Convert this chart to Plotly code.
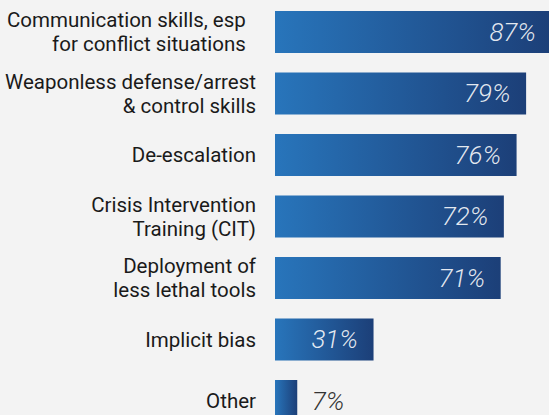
import plotly.graph_objects as go

# Survey topics and share of respondents selecting each
categories = [
    "Communication skills, esp\u00a0\u00a0<br>for conflict situations\u00a0\u00a0",
    "Weaponless defense/arrest<br>& control skills",
    "De-escalation",
    "Crisis Intervention<br>Training (CIT)",
    "Deployment of<br>less lethal tools",
    "Implicit bias",
    "Other",
]
values = [87, 79, 76, 72, 71, 31, 7]
value_labels = ["87%", "79%", "76%", "72%", "71%", "31%", "7%"]

BAR_LIGHT = "#2875bb"
BAR_DARK = "#1c3f78"
BG = "#f3f3f3"
BAR_WIDTH = 0.684      # bar thickness in category units
LINE_GAP = 0.193       # half distance between two label lines, category units
X_RANGE = [0, 86.2]

fig = go.Figure()

positions = list(range(len(categories)))
half = BAR_WIDTH / 2

# Gradient-filled bars: one closed polygon per category
for pos, v in zip(positions, values):
    fig.add_trace(go.Scatter(
        x=[0, v, v, 0, 0],
        y=[pos - half, pos - half, pos + half, pos + half, pos - half],
        mode="lines",
        line=dict(width=0),
        fill="toself",
        fillgradient=dict(
            type="horizontal",
            start=0,
            stop=v,
            colorscale=[[0, BAR_LIGHT], [1, BAR_DARK]],
        ),
        hoverinfo="skip",
        showlegend=False,
    ))

# Value labels carried by transparent bars of the same length,
# on an overlaid x axis so they sit above the filled bars
text_pos = ["inside" if v >= 20 else "outside" for v in values]
texts = [t + "\u00a0\u00a0" if p == "inside" else "\u00a0\u2009" + t
         for t, p in zip(value_labels, text_pos)]
fig.add_trace(go.Bar(
    x=values,
    y=positions,
    xaxis="x2",
    orientation="h",
    width=BAR_WIDTH,
    marker=dict(color="rgba(0,0,0,0)", line=dict(width=0)),
    text=texts,
    textposition=text_pos,
    insidetextanchor="end",
    constraintext="none",
    cliponaxis=True,
    insidetextfont=dict(family="Roboto", size=26, color="rgba(255,255,255,0.88)",
                        style="italic", weight=300),
    outsidetextfont=dict(family="Roboto", size=26, color="#333333",
                         style="italic", weight=300),
    hoverinfo="skip",
    showlegend=False,
))

# Category labels: each line of a label is its own tick for tight line spacing
tick_vals, tick_text = [], []
for pos, label in zip(positions, categories):
    lines = label.split("<br>")
    if len(lines) == 1:
        tick_vals.append(pos)
        tick_text.append(lines[0])
    else:
        tick_vals += [pos - LINE_GAP, pos + LINE_GAP]
        tick_text += lines

fig.update_layout(
    width=549,
    height=415,
    margin=dict(l=275, r=0, t=0, b=0),
    paper_bgcolor=BG,
    plot_bgcolor=BG,
    font=dict(family="Roboto", size=20.5, color="#1a1a1a"),
    xaxis=dict(range=X_RANGE, visible=False, fixedrange=True),
    xaxis2=dict(range=X_RANGE, visible=False, fixedrange=True,
                overlaying="x", anchor="y"),
    yaxis=dict(
        range=[6.228, -0.52],
        tickvals=tick_vals,
        ticktext=tick_text,
        showgrid=False,
        zeroline=False,
        showline=False,
        ticks="",
        ticklabelstandoff=18,
        automargin=False,
        fixedrange=True,
        tickfont=dict(family="Roboto", size=20.5, color="#1a1a1a"),
    ),
    barmode="overlay",
)

fig.write_html("out.html", config={"displayModeBar": False})
